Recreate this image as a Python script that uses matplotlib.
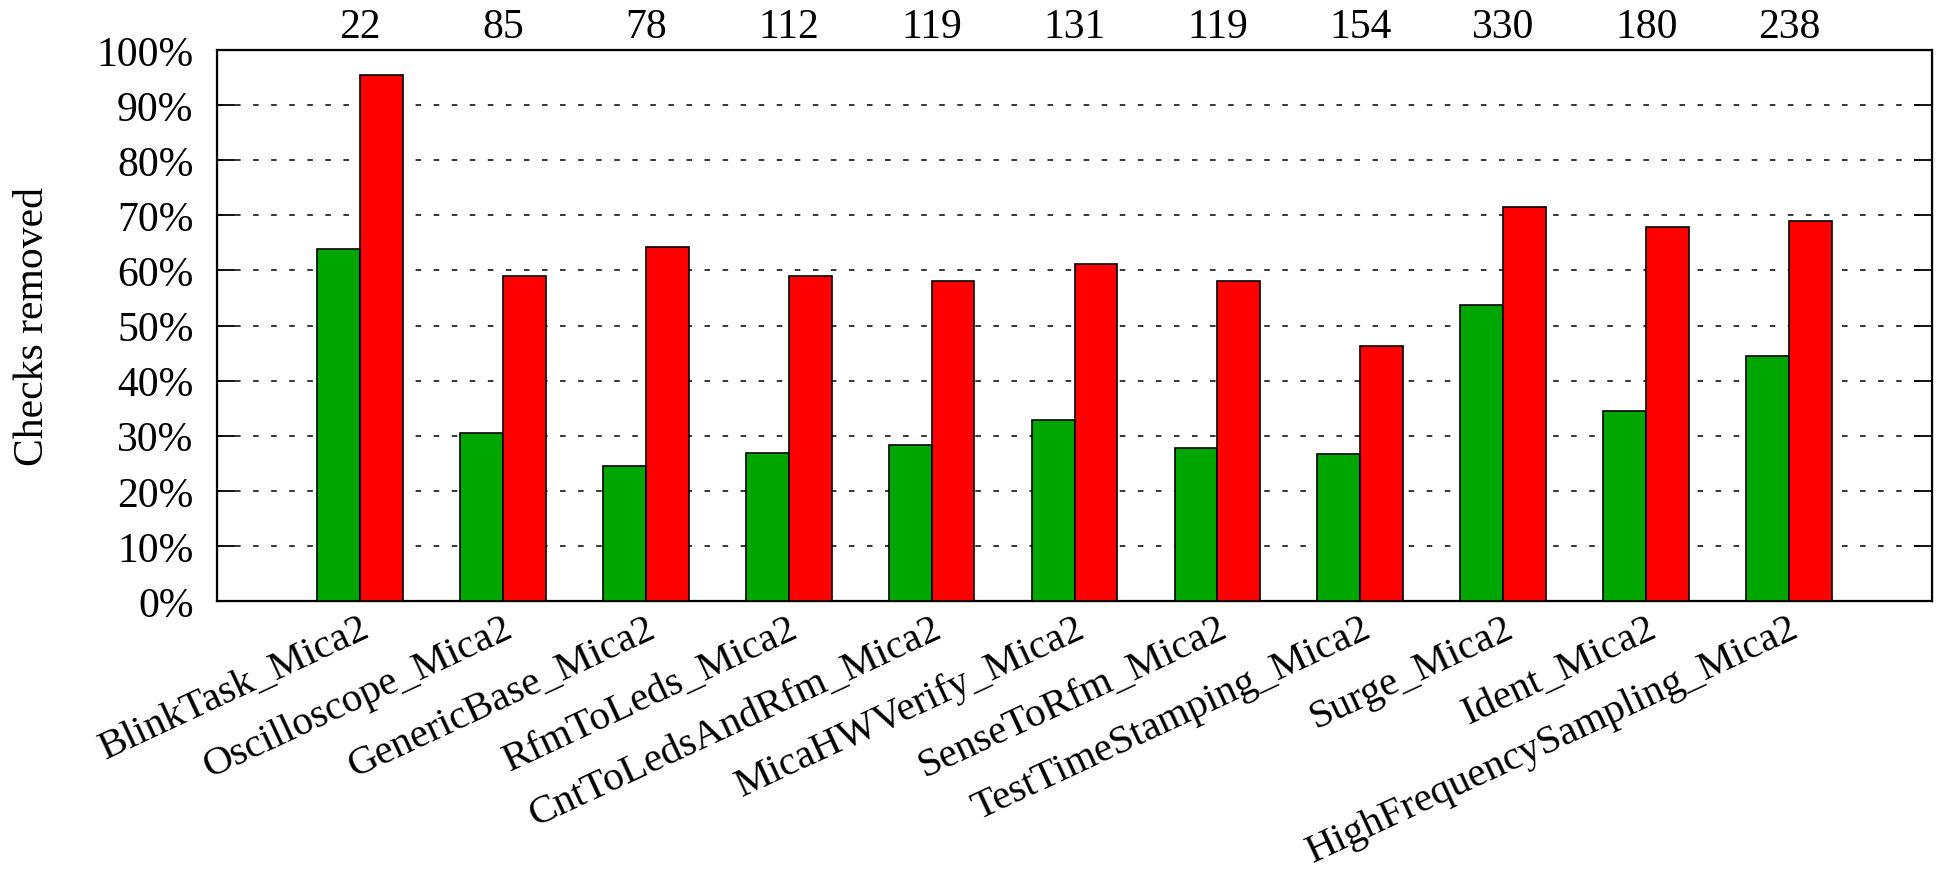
import numpy as np
import matplotlib
matplotlib.use("Agg")
import matplotlib.pyplot as plt
from matplotlib.ticker import FuncFormatter

# per-program results
programs = ["BlinkTask_Mica2", "Oscilloscope_Mica2", "GenericBase_Mica2",
            "RfmToLeds_Mica2", "CntToLedsAndRfm_Mica2", "MicaHWVerify_Mica2",
            "SenseToRfm_Mica2", "TestTimeStamping_Mica2", "Surge_Mica2",
            "Ident_Mica2", "HighFrequencySampling_Mica2"]
check_counts = [22, 85, 78, 112, 119, 131, 119, 154, 330, 180, 238]
removed_a = [63.8, 30.5, 24.5, 26.8, 28.4, 32.8, 27.7, 26.6, 53.8, 34.4, 44.5]
removed_b = [95.4, 59.0, 64.2, 59.0, 58.1, 61.2, 58.1, 46.2, 71.5, 67.9, 68.9]

plt.rcParams["font.family"] = ["Liberation Serif", "DejaVu Serif"]
plt.rcParams["lines.scale_dashes"] = False

fig = plt.figure(figsize=(19.44, 8.79), dpi=100)
ax = fig.add_axes([217/1944, 1 - 602/879, (1932 - 217)/1944, (602 - 51)/879])

x = np.arange(len(programs))
w = 0.3
ax.bar(x - w/2, removed_a, w, color="#00a600", edgecolor="black", linewidth=1.2, zorder=3)
ax.bar(x + w/2, removed_b, w, color="#ff0000", edgecolor="black", linewidth=1.2, zorder=3)

ax.set_xlim(-1, len(programs))
ax.set_ylim(0, 100)
ax.set_yticks(np.arange(0, 101, 10))
ax.yaxis.set_major_formatter(FuncFormatter(lambda v, p: "%d%%" % v))
ax.yaxis.grid(True, color="black", linewidth=1.1, linestyle=(0, (4, 9)), zorder=0)
ax.set_axisbelow(True)

ax.tick_params(axis="y", direction="in", length=13, width=1.3, left=True, right=True,
               labelsize=30, pad=17)
ax.set_xticks(x)
ax.set_xticklabels(programs, rotation=25, ha="right", va="top",
                   rotation_mode="anchor", fontsize=29.5)
ax.tick_params(axis="x", length=0, pad=6)

for s in ax.spines.values():
    s.set_linewidth(1.6)

ax.set_ylabel("Checks removed", fontsize=30)
ax.yaxis.set_label_coords(-0.0965, 0.5)

# check counts along the top
top = ax.twiny()
top.set_xlim(ax.get_xlim())
top.set_xticks(x)
top.set_xticklabels([str(c) for c in check_counts], fontsize=30)
top.tick_params(axis="x", length=0, pad=3)

fig.savefig("out.png", dpi=100)
